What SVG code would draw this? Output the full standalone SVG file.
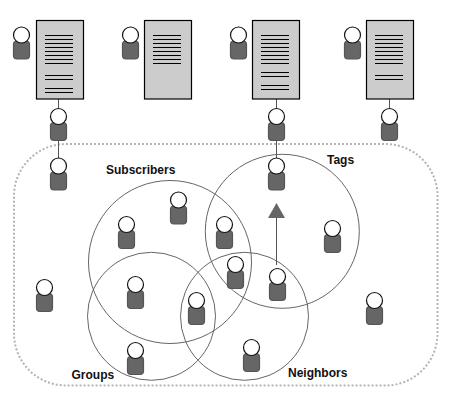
<svg xmlns="http://www.w3.org/2000/svg" xmlns:xlink="http://www.w3.org/1999/xlink" width="450" height="400" viewBox="0 0 450 400">
<style>
.bg{fill:#fff}
.doc{fill:#ccc;stroke:#000;stroke-width:1.2}
.tl{stroke:#000;stroke-width:1;fill:none}
.ring{fill:none;stroke:#666;stroke-width:1}
.conn{stroke:#555;stroke-width:1;fill:none}
.body{fill:#666;stroke:#555;stroke-width:1.2}
.head{fill:#fff;stroke:#111;stroke-width:1.2}
.lab{font-family:"Liberation Sans",Arial,sans-serif;font-weight:bold;font-size:12px;fill:#111}
</style>
<defs>
<g id="person"><rect class="body" x="-8" y="6" width="16" height="18" rx="3.5"/><circle class="head" r="8"/></g>
<path id="lines8" class="tl" d="M0 35.500h28M0 39.500h28M0 43.500h28M0 47.500h28M0 51.500h28M0 55.500h28M0 59.500h28M0 63.500h28"/>
</defs>
<rect class="bg" width="450" height="400"/>
<rect id="boundary" x="14" y="144" width="423.500" height="241.500" rx="52" ry="52" fill="none" stroke="#b4b4b4" stroke-width="2" stroke-dasharray="2 2"/>
<g id="connectors">
<path class="conn" d="M58.500 99V109M58.500 140V158M276.500 99V109M276.500 140V158M389.500 99V109M276.500 265V217"/>
<polygon points="276.500,203 285,218 268,218" fill="#666"/>
<circle class="ring" cx="170" cy="262" r="81.500"/>
<circle class="ring" cx="151.500" cy="316.300" r="64"/>
<circle class="ring" cx="244.500" cy="316.300" r="64"/>
<circle class="ring" cx="282.300" cy="231.300" r="77"/>
</g>
<g id="doc1"><rect class="doc" x="36.500" y="20.500" width="47" height="78.500"/><use xlink:href="#lines8" x="45"/><path class="tl" d="M45 75.500h28M45 79.500h28M45 88.500h28M45 92.500h28"/></g>
<g id="doc2"><rect class="doc" x="144.500" y="20.500" width="47" height="78.500"/><use xlink:href="#lines8" x="153"/></g>
<g id="doc3"><rect class="doc" x="252.500" y="20.500" width="47" height="78.500"/><use xlink:href="#lines8" x="261"/><path class="tl" d="M261 72.500h28M261 76.500h28M261 85.500h28M261 89.500h28"/></g>
<g id="doc4"><rect class="doc" x="366.500" y="20.500" width="47" height="78.500"/><use xlink:href="#lines8" x="375"/><path class="tl" d="M375 75.500h28M375 79.500h28"/></g>
<g id="p1"><use xlink:href="#person" x="21.500" y="35"/></g>
<g id="p2"><use xlink:href="#person" x="130.500" y="35"/></g>
<g id="p3"><use xlink:href="#person" x="238.500" y="35"/></g>
<g id="p4"><use xlink:href="#person" x="352.500" y="35"/></g>
<g id="p5"><use xlink:href="#person" x="58.500" y="116.500"/></g>
<g id="p6"><use xlink:href="#person" x="276.500" y="116.500"/></g>
<g id="p7"><use xlink:href="#person" x="389.500" y="116.500"/></g>
<g id="p8"><use xlink:href="#person" x="58.500" y="166"/></g>
<g id="p9"><use xlink:href="#person" x="276.500" y="166"/></g>
<g id="p10"><use xlink:href="#person" x="178.500" y="200"/></g>
<g id="p11"><use xlink:href="#person" x="126.500" y="224.500"/></g>
<g id="p12"><use xlink:href="#person" x="224.500" y="224.500"/></g>
<g id="p13"><use xlink:href="#person" x="44.500" y="287.500"/></g>
<g id="p14"><use xlink:href="#person" x="135.500" y="284.500"/></g>
<g id="p15"><use xlink:href="#person" x="196.500" y="300.500"/></g>
<g id="p16"><use xlink:href="#person" x="135.500" y="350.500"/></g>
<g id="p17"><use xlink:href="#person" x="235.500" y="264.500"/></g>
<g id="p18"><use xlink:href="#person" x="277.500" y="276.500"/></g>
<g id="p19"><use xlink:href="#person" x="332.500" y="228.500"/></g>
<g id="p20"><use xlink:href="#person" x="374.500" y="300.500"/></g>
<g id="p21"><use xlink:href="#person" x="251.500" y="347.500"/></g>
<g id="labels">
<text class="lab" x="106" y="174">Subscribers</text>
<text class="lab" x="327" y="164">Tags</text>
<text class="lab" x="71.500" y="379">Groups</text>
<text class="lab" x="288" y="377">Neighbors</text>
</g>
</svg>
